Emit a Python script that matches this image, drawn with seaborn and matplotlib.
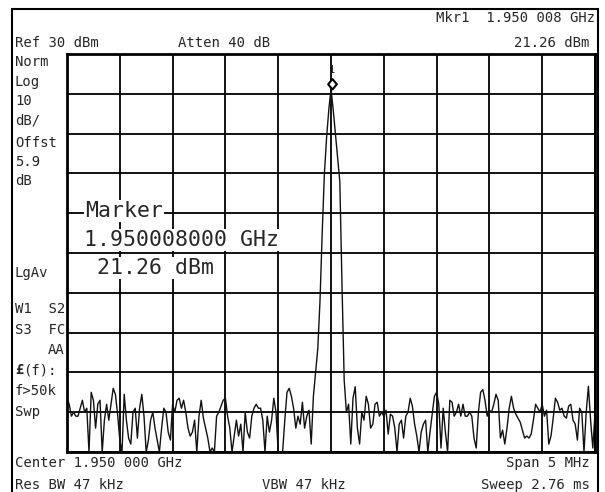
import numpy as np
import pandas as pd
import matplotlib.pyplot as plt
from matplotlib.path import Path
from matplotlib.patches import Rectangle
import seaborn as sns

sns.set_style("white")
plt.rcParams['font.family'] = ['DejaVu Sans Mono', 'DejaVu Sans']

# analyzer settings
center_mhz = 1950.0
span_mhz = 5.0
ref_dbm = 30
db_per_div = 10
marker_mhz = 1950.008
marker_dbm = 21.26

# trace levels (dBm), one per sweep point
levels = [
    -56.5, -58, -61, -60, -61, -61, -59, -57, -60, -59,
    -70, -55, -57, -64, -58, -57, -70, -62, -58, -62,
    -58, -54, -55.5, -60.5, -67, -70, -55.5, -62, -66.5, -68,
    -60, -59, -66.5, -59, -55.5, -61, -70, -67, -62, -60,
    -64, -67, -70, -64, -59, -60, -65, -67, -58, -60,
    -57, -56.5, -59, -57, -60, -64, -66, -65, -62, -70,
    -61, -57, -61.5, -64, -66.5, -70, -69, -70, -61, -60,
    -58.5, -57, -56.5, -61, -64, -70, -66, -62, -66, -63,
    -70, -60, -65, -66.5, -61, -59, -58, -59, -59, -62,
    -70, -61, -65, -62, -56.5, -60, -70, -70, -70, -62,
    -55, -54, -56, -59, -64, -61, -63, -57.5, -64, -61,
    -59.5, -68, -56, -50, -44, -32, -15, 0, 9, 16,
    21.26, 16, 10, 4, -2, -28, -52, -60, -58, -68,
    -56.5, -53.6, -64, -68, -60, -62, -56, -58, -64, -63,
    -58, -57.5, -61, -60, -61, -59.5, -65.5, -60.5, -61, -64,
    -70, -63, -62, -66.5, -61, -60, -56.5, -58.5, -63, -66,
    -70, -65, -63, -62, -70, -65, -60.5, -56, -55, -58,
    -69, -59, -65, -70, -57, -57.5, -61, -60, -58, -61,
    -58, -61, -61, -60, -61, -66.5, -69, -60, -55, -54.3,
    -57, -61, -59.5, -60, -58, -55.5, -57, -66.5, -64.5, -68,
    -64, -59, -56, -59, -60.5, -61.5, -62.5, -64.5, -66.5, -66,
    -66.5, -65.5, -62, -58, -59, -60, -58, -61, -59.5, -68,
    -66, -61.5, -56.5, -57.5, -59.5, -59, -61, -61.5, -58.5, -58,
    -62, -63, -67, -59, -60, -70, -60, -53.5, -62, -69, -60.5,
]

freq = center_mhz + np.linspace(-span_mhz / 2, span_mhz / 2, len(levels))
df = pd.DataFrame({"freq": freq, "level": levels})

W, H = 605, 492
fig = plt.figure(figsize=(W / 100, H / 100), dpi=100)
ax = fig.add_axes([67 / W, 1 - 452 / H, (595 - 67) / W, (452 - 54) / H])

sns.lineplot(data=df, x="freq", y="level", ax=ax, color="#111111",
             linewidth=1.0, estimator=None, sort=False)

ax.set_xlim(center_mhz - span_mhz / 2, center_mhz + span_mhz / 2)
ax.set_ylim(ref_dbm - 10 * db_per_div, ref_dbm)
ax.set_xticks(np.linspace(center_mhz - span_mhz / 2, center_mhz + span_mhz / 2, 11))
ax.set_yticks(np.arange(ref_dbm - 10 * db_per_div, ref_dbm + 1, db_per_div))
ax.grid(True, color="black", linewidth=1.3)
ax.set_axisbelow(True)
ax.tick_params(length=0, labelbottom=False, labelleft=False)
ax.set_xlabel("")
ax.set_ylabel("")
for sp in ax.spines.values():
    sp.set_color("black")
    sp.set_linewidth(2)

# marker diamond sitting on the peak
diamond = Path([(0, 0), (1, 1.2), (0, 2.4), (-1, 1.2), (0, 0)],
               [Path.MOVETO, Path.LINETO, Path.LINETO, Path.LINETO, Path.CLOSEPOLY])
ax.plot([marker_mhz], [marker_dbm], marker=diamond, markersize=15,
        mfc="white", mec="black", mew=1.5, linestyle="none")
ax.annotate("1", (marker_mhz, marker_dbm), xytext=(0, 19), textcoords="offset pixels",
            ha="center", va="center", fontsize=7.5)

# outer screen frame
fig.add_artist(Rectangle((12 / W, -0.05), (598 - 12) / W, 1 - 9 / H + 0.05,
                         transform=fig.transFigure, fill=False, lw=1.5, ec="black"))


def label(x, y, s, ha="left", size=10, **kw):
    fig.text(x / W, 1 - y / H, s, ha=ha, va="center", fontsize=size, **kw)


label(595, 18, "Mkr1  1.950 008 GHz", ha="right")
label(15, 43, "Ref 30 dBm")
label(178, 43, "Atten 40 dB")
label(589, 43, "21.26 dBm", ha="right")

left_col = [("Norm", 62), ("Log", 82), ("10", 101), ("dB/", 121), ("Offst", 143),
            ("5.9", 162), ("dB", 181), ("LgAv", 273), ("W1  S2", 309),
            ("S3  FC", 330), ("f>50k", 391), ("Swp", 412)]
for s, y in left_col:
    label(15, y, s)
label(65, 350, "AA", ha="right")
label(15, 370, "£", fontweight="bold")
label(23, 370, "(f):")

label(15, 463, "Center 1.950 000 GHz")
label(15, 485, "Res BW 47 kHz")
label(262, 485, "VBW 47 kHz")
label(590, 463, "Span 5 MHz", ha="right")
label(590, 485, "Sweep 2.76 ms", ha="right")

box = dict(facecolor="white", edgecolor="none", pad=1)
label(85, 211, "Marker", size=15.5, bbox=box)
label(84, 240, "1.950008000 GHz", size=15.5, bbox=box)
label(84, 268, " 21.26 dBm", size=15.5, bbox=box)

fig.savefig("out.png", dpi=100)
